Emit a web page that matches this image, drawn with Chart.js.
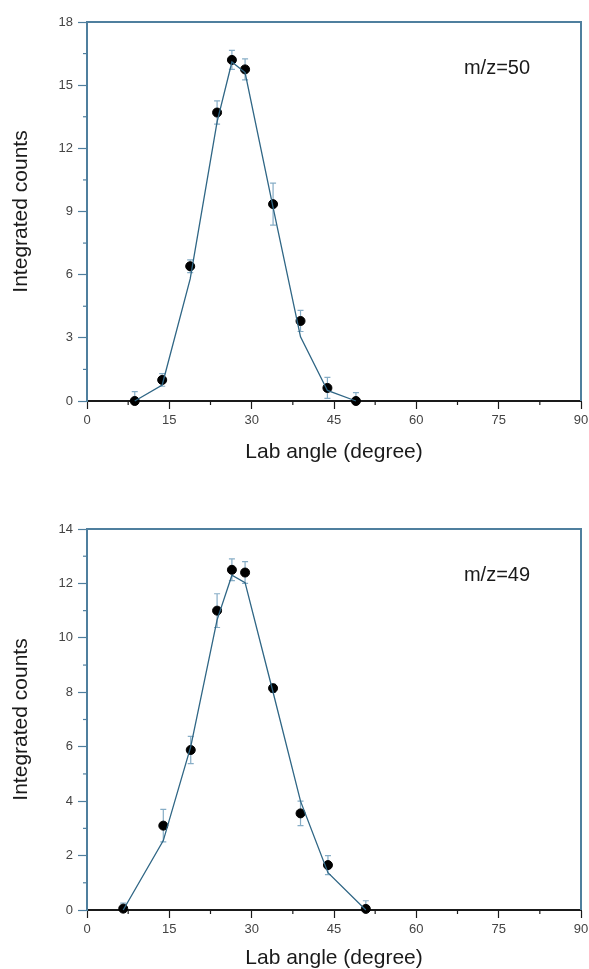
<!DOCTYPE html>
<html>
<head>
<meta charset="utf-8">
<script src="https://cdn.jsdelivr.net/npm/chart.js@4.4.0/dist/chart.umd.min.js"></script>
<style>
  html, body { margin: 0; padding: 0; background: #ffffff; }
  .box { position: absolute; left: 0; width: 589px; }
  #topBox { top: 0; height: 484px; }
  #bottomBox { top: 484px; height: 485px; }
</style>
</head>
<body>
<div class="box" id="topBox"><canvas id="chartTop" width="589" height="484"></canvas></div>
<div class="box" id="bottomBox"><canvas id="chartBottom" width="589" height="485"></canvas></div>
<script>
// m/z=50 (top panel)
const anglesTop = [8.7, 13.7, 18.8, 23.7, 26.4, 28.8, 33.9, 38.9, 43.8, 49.0]
const countsTop = [0, 1.0, 6.4, 13.7, 16.2, 15.75, 9.35, 3.8, 0.62, 0]
const errorsTop = [0.45, 0.3, 0.3, 0.55, 0.45, 0.5, 1.0, 0.5, 0.5, 0.4]
const fitTop = [0, 0.76, 5.8, 13.26, 16.1, 15.6, 9.2, 3.05, 0.5, 0]

// m/z=49 (bottom panel)
const anglesBottom = [6.6, 13.9, 18.9, 23.7, 26.4, 28.8, 33.9, 38.9, 43.9, 50.8]
const countsBottom = [0.05, 3.1, 5.88, 11.0, 12.5, 12.4, 8.15, 3.55, 1.65, 0.04]
const errorsBottom = [0.2, 0.6, 0.5, 0.62, 0.4, 0.4, 0.15, 0.45, 0.35, 0.3]
const fitBottom = [0, 2.55, 6.0, 10.66, 12.3, 12.03, 8.0, 4.0, 1.37, 0]

const xTicks = [0, 15, 30, 45, 60, 75, 90]
const yTicksTop = [0, 3, 6, 9, 12, 15, 18]
const yTicksBottom = [0, 2, 4, 6, 8, 10, 12, 14]

const frameColor = "#4f7f9e"
const axisColor = "#1a1a1a"
const lineColor = "#2f6685"
const errColor = "#86adc6"
const tickFont = { family: "Liberation Sans, Arial, sans-serif", size: 13 }
const titleFont = { family: "Liberation Sans, Arial, sans-serif", size: 21, lineHeight: 1 }

function toPoints(xs, ys) {
    return xs.map((x, i) => ({ x: x, y: ys[i] }))
}

// error bars, drawn with the chart's scales
const errorBarPlugin = {
    id: "errorBars",
    beforeDatasetsDraw(chart, args, opts) {
        const ctx = chart.ctx
        const xs = chart.scales.x
        const ys = chart.scales.y
        ctx.save()
        ctx.strokeStyle = errColor
        ctx.lineWidth = 1.2
        opts.xs.forEach((x, i) => {
            const px = xs.getPixelForValue(x)
            const top = ys.getPixelForValue(opts.ys[i] + opts.err[i])
            const bot = ys.getPixelForValue(Math.max(0, opts.ys[i] - opts.err[i]))
            ctx.beginPath()
            ctx.moveTo(px, top); ctx.lineTo(px, bot)
            ctx.moveTo(px - 3, top); ctx.lineTo(px + 3, top)
            ctx.moveTo(px - 3, bot); ctx.lineTo(px + 3, bot)
            ctx.stroke()
        })
        ctx.restore()
    }
}

// top/right frame plus minor ticks
const framePlugin = {
    id: "frame",
    afterDraw(chart, args, opts) {
        const ctx = chart.ctx
        const a = chart.chartArea
        const xs = chart.scales.x
        const ys = chart.scales.y
        ctx.save()
        ctx.strokeStyle = frameColor
        ctx.lineWidth = 2
        ctx.beginPath()
        ctx.moveTo(a.left, a.top); ctx.lineTo(a.right, a.top); ctx.lineTo(a.right, a.bottom)
        ctx.stroke()
        ctx.lineWidth = 1.2
        ctx.strokeStyle = axisColor
        for (let v = 7.5; v < 90; v += 15) {
            const px = xs.getPixelForValue(v)
            ctx.beginPath(); ctx.moveTo(px, a.bottom); ctx.lineTo(px, a.bottom + 4); ctx.stroke()
        }
        ctx.strokeStyle = frameColor
        for (let v = opts.minorStep; v < opts.max; v += opts.minorStep * 2) {
            const py = ys.getPixelForValue(v)
            ctx.beginPath(); ctx.moveTo(a.left, py); ctx.lineTo(a.left - 4, py); ctx.stroke()
        }
        ctx.restore()
    }
}

function makeChart(canvasId, xs, ys, errs, fit, yTicks, yMax, label, padTop, xHeight, titlePad) {
    const ctx = document.getElementById(canvasId).getContext("2d")
    return new Chart(ctx, {
        type: "scatter",
        data: {
            datasets: [
                {
                    type: "line",
                    data: toPoints(xs, fit),
                    borderColor: lineColor,
                    borderWidth: 1.3,
                    pointRadius: 0,
                    fill: false,
                    tension: 0,
                    clip: false
                },
                {
                    data: toPoints(xs, ys),
                    backgroundColor: "#000000",
                    borderColor: "#000000",
                    pointRadius: 4.5,
                    clip: false
                }
            ]
        },
        options: {
            responsive: false,
            animation: false,
            events: [],
            layout: { padding: { left: 0, right: 8, top: padTop, bottom: 0 } },
            plugins: {
                legend: { display: false },
                tooltip: { enabled: false },
                errorBars: { xs: xs, ys: ys, err: errs },
                frame: { minorStep: yTicks[1] / 2, max: yMax },
                annotationText: { text: label }
            },
            scales: {
                x: {
                    type: "linear",
                    min: 0,
                    max: 90,
                    afterBuildTicks: s => { s.ticks = xTicks.map(v => ({ value: v })) },
                    afterFit: s => { s.height = xHeight; s.paddingRight = 0; s.paddingLeft = 0 },
                    ticks: { font: tickFont, color: "#444444", padding: 4, maxRotation: 0 },
                    grid: { drawOnChartArea: false, tickLength: 8, tickColor: axisColor, tickWidth: 1.2 },
                    border: { color: axisColor, width: 2 },
                    title: {
                        display: true,
                        text: "Lab angle (degree)",
                        font: titleFont,
                        color: "#1a1a1a",
                        padding: { top: 0, bottom: titlePad }
                    }
                },
                y: {
                    type: "linear",
                    min: 0,
                    max: yMax,
                    afterBuildTicks: s => { s.ticks = yTicks.map(v => ({ value: v })) },
                    afterFit: s => { s.width = 87 },
                    ticks: { font: tickFont, color: "#444444", padding: 5 },
                    grid: { drawOnChartArea: false, tickLength: 9, tickColor: frameColor, tickWidth: 1.2 },
                    border: { color: frameColor, width: 2 },
                    title: {
                        display: true,
                        text: "Integrated counts",
                        font: titleFont,
                        color: "#1a1a1a",
                        padding: { top: 11, bottom: 0 }
                    }
                }
            }
        },
        plugins: [errorBarPlugin, framePlugin, {
            id: "annotationText",
            afterDraw(chart, args, opts) {
                const c = chart.ctx
                const a = chart.chartArea
                c.save()
                c.font = "20px Liberation Sans, Arial, sans-serif"
                c.fillStyle = "#1a1a1a"
                c.textAlign = "center"
                c.textBaseline = "middle"
                c.fillText(opts.text, a.left + (a.right - a.left) * 0.83, a.top + 46)
                c.restore()
            }
        }]
    })
}

makeChart("chartTop", anglesTop, countsTop, errorsTop, fitTop, yTicksTop, 18, "m/z=50", 22, 83, 21)
makeChart("chartBottom", anglesBottom, countsBottom, errorsBottom, fitBottom, yTicksBottom, 14, "m/z=49", 45, 59, 0)
</script>
</body>
</html>
